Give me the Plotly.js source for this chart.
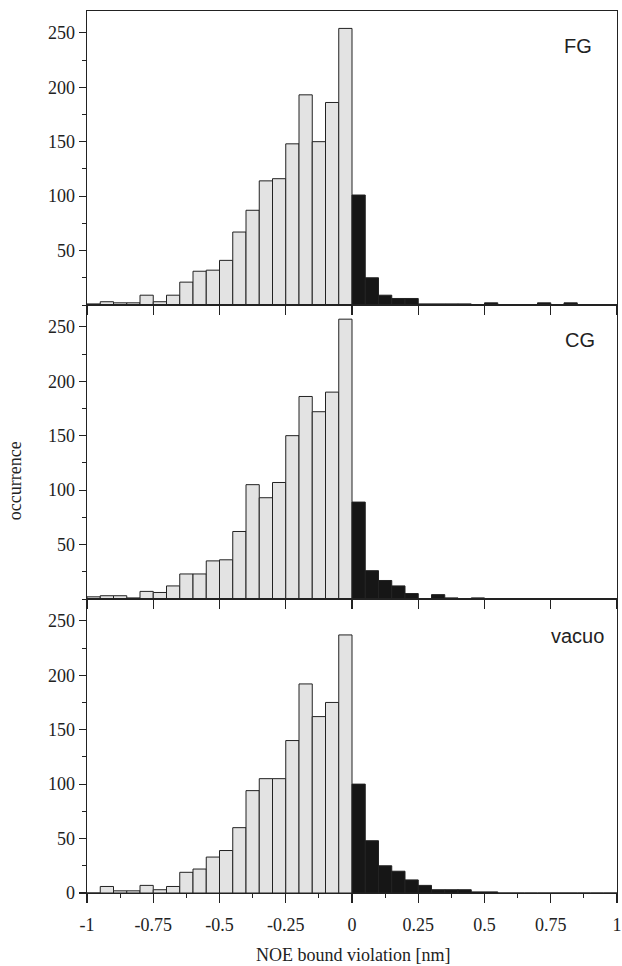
<!DOCTYPE html>
<html>
<head>
<meta charset="utf-8">
<script src="https://cdn.plot.ly/plotly-3.0.1.min.js"></script>
<style>
html,body{margin:0;padding:0;background:#fff;}
#chart{width:622px;height:966px;}
</style>
</head>
<body>
<div id="chart"></div>
<script>
// Bin centres (bin width 0.05 nm) for the NOE bound violation histogram
var binCenters = [-0.975,-0.925,-0.875,-0.825,-0.775,-0.725,-0.675,-0.625,-0.575,-0.525,
                  -0.475,-0.425,-0.375,-0.325,-0.275,-0.225,-0.175,-0.125,-0.075,-0.025,
                  0.025,0.075,0.125,0.175,0.225,0.275,0.325,0.375,0.425,0.475,
                  0.525,0.575,0.625,0.675,0.725,0.775,0.825,0.875,0.925,0.975];

var panelNames = ["FG", "CG", "vacuo"];

var fgCounts = [1,3,2,2,9,3,9,21,31,32,41,67,87,114,116,148,193,150,186,254,
                101,25,9,6,6,1,1,1,1,0,2,0,0,0,2,0,2,0,0,0];
var cgCounts = [2,3,3,1,7,6,12,23,23,35,36,62,105,93,107,150,186,172,190,257,
                89,26,17,12,5,0,4,1,0,1,0,0,0,0,0,0,0,0,0,0];
var vacuoCounts = [0,6,2,2,7,3,6,19,22,33,39,60,94,105,105,140,192,162,175,237,
                   100,48,25,20,12,7,3,3,3,1,1,0,0,0,0,0,0,0,0,0];

var xTickVals = [-1,-0.75,-0.5,-0.25,0,0.25,0.5,0.75,1];
var xTickText = ["-1","-0.75","-0.5","-0.25","0","0.25","0.5","0.75","1"];
var xMinorVals = [-0.875,-0.625,-0.375,-0.125,0.125,0.375,0.625,0.875];
var yTickValsTop = [50,100,150,200,250];
var yTickValsBottom = [0,50,100,150,200,250];

var xTitle = "NOE bound violation [nm]";
var yTitle = "occurrence";

var grayFill = "#e3e3e3";
var blackFill = "#161616";
var lineCol = "#222222";

var allCounts = [fgCounts, cgCounts, vacuoCounts];
var traces = [];
allCounts.forEach(function(counts, p){
  var colors = binCenters.map(function(c){ return c < 0 ? grayFill : blackFill; });
  traces.push({
    type: "bar",
    x: binCenters,
    y: counts,
    width: 0.05,
    marker: {color: colors, line: {color: lineCol, width: 1}},
    xaxis: p === 0 ? "x" : "x" + (p + 1),
    yaxis: p === 0 ? "y" : "y" + (p + 1),
    showlegend: false,
    hoverinfo: "x+y"
  });
});

var tickFont = {family: "Liberation Serif, Times New Roman, serif", size: 18, color: "#222"};

function xAxis(p, isBottom){
  var ax = {
    domain: [0, 1],
    range: [-1, 1],
    anchor: p === 0 ? "y" : "y" + (p + 1),
    tickvals: xTickVals,
    ticktext: xTickText,
    showticklabels: isBottom,
    ticks: "outside",
    ticklen: 9,
    tickwidth: 1.2,
    tickcolor: lineCol,
    ticklabeloverflow: "allow",
    ticklabelstandoff: 6,
    showline: true,
    linecolor: lineCol,
    linewidth: 1.3,
    mirror: true,
    showgrid: false,
    zeroline: false,
    tickfont: tickFont,
    fixedrange: true
  };
  if (isBottom) {
    ax.minor = {tickvals: xMinorVals, ticks: "outside", ticklen: 4, tickcolor: lineCol, tickwidth: 1};
  }
  return ax;
}
function yAxis(p, domain, vals){
  return {
    domain: domain,
    range: [0, 270],
    anchor: p === 0 ? "x" : "x" + (p + 1),
    tickvals: vals,
    ticktext: vals.map(String),
    ticks: "outside",
    ticklen: 7,
    tickwidth: 1.2,
    tickcolor: lineCol,
    minor: {dtick: 25, ticks: "outside", ticklen: 4, tickcolor: lineCol, tickwidth: 1},
    showline: true,
    linecolor: lineCol,
    linewidth: 1.3,
    mirror: true,
    showgrid: false,
    zeroline: false,
    tickfont: tickFont,
    fixedrange: true
  };
}

var labelFont = {family: "Liberation Sans, Arial, sans-serif", size: 20, color: "#222"};
var layout = {
  width: 622,
  height: 966,
  margin: {l: 87, r: 5, t: 11, b: 73},
  paper_bgcolor: "#ffffff",
  plot_bgcolor: "#ffffff",
  bargap: 0,
  xaxis: xAxis(0, false),
  xaxis2: xAxis(1, false),
  xaxis3: xAxis(2, true),
  yaxis: yAxis(0, [2/3, 1], yTickValsTop),
  yaxis2: yAxis(1, [1/3, 2/3], yTickValsTop),
  yaxis3: yAxis(2, [0, 1/3], yTickValsBottom),
  annotations: [
    {text: panelNames[0], xref: "paper", yref: "paper", x: 0.926, y: 0.960, xanchor: "center", yanchor: "middle", showarrow: false, font: labelFont},
    {text: panelNames[1], xref: "paper", yref: "paper", x: 0.930, y: 0.627, xanchor: "center", yanchor: "middle", showarrow: false, font: labelFont},
    {text: panelNames[2], xref: "paper", yref: "paper", x: 0.926, y: 0.291, xanchor: "center", yanchor: "middle", showarrow: false, font: labelFont},
    {text: xTitle, xref: "paper", yref: "paper", x: 0.502, y: -0.0703, xanchor: "center", yanchor: "middle", showarrow: false,
     font: {family: "Liberation Serif, Times New Roman, serif", size: 18, color: "#222"}},
    {text: yTitle, xref: "paper", yref: "paper", x: -0.136, y: 0.468, xanchor: "center", yanchor: "middle", textangle: -90, showarrow: false,
     font: {family: "Liberation Serif, Times New Roman, serif", size: 18, color: "#222"}}
  ]
};

Plotly.newPlot("chart", traces, layout, {displayModeBar: false, staticPlot: true});
</script>
</body>
</html>
